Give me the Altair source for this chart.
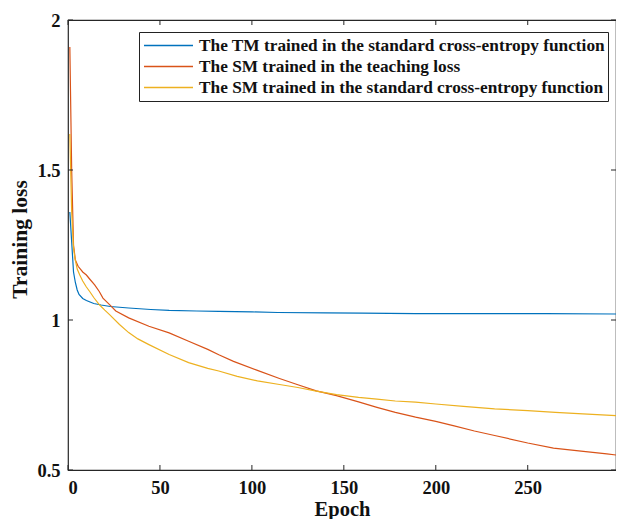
import altair as alt
import pandas as pd

# ---- data ----
tm_epoch = [1, 2, 3, 4, 5, 6, 8, 10, 12, 14, 18, 23, 33, 45, 55, 70, 82, 100, 114,
            140, 160, 189, 220, 260, 298]
tm_loss = [1.36, 1.26, 1.16, 1.125, 1.1, 1.085, 1.072, 1.065, 1.06, 1.055, 1.05,
           1.045, 1.04, 1.035, 1.032, 1.03, 1.029, 1.027, 1.025, 1.024, 1.023, 1.021,
           1.021, 1.021, 1.02]

smt_epoch = [1, 2, 3, 4, 5.5, 8, 10, 12, 14.5, 17, 19, 22.6, 26, 33, 44, 55, 65.6, 76,
             82, 90, 103, 115, 125, 135, 146, 158, 168, 178, 189, 200, 210, 221, 232,
             250, 264, 279, 293, 298]
smt_loss = [1.91, 1.5, 1.25, 1.2, 1.179, 1.16, 1.15, 1.135, 1.117, 1.095, 1.073,
            1.051, 1.03, 1.007, 0.979, 0.957, 0.929, 0.902, 0.884, 0.862, 0.832,
            0.805, 0.784, 0.764, 0.748, 0.727, 0.709, 0.692, 0.676, 0.662, 0.647,
            0.63, 0.615, 0.59, 0.573, 0.563, 0.554, 0.55]

smce_epoch = [1, 2, 3, 3.8, 5, 6.4, 8, 10, 11.8, 14, 17.2, 20, 22.6, 28, 33, 38, 44,
              55, 65.6, 76, 82, 92, 103, 115, 125, 135, 146, 158, 168, 178, 189, 200,
              215, 232, 250, 265, 280, 298]
smce_loss = [1.62, 1.36, 1.24, 1.205, 1.17, 1.15, 1.13, 1.11, 1.095, 1.075, 1.05,
             1.033, 1.018, 0.985, 0.958, 0.937, 0.918, 0.885, 0.858, 0.839, 0.83,
             0.812, 0.797, 0.785, 0.775, 0.763, 0.751, 0.742, 0.736, 0.73, 0.726,
             0.72, 0.712, 0.704, 0.698, 0.692, 0.687, 0.681]

series_names = [
    "The TM trained in the standard cross-entropy function",
    "The SM trained in the teaching loss",
    "The SM trained in the standard cross-entropy function",
]
series_colors = ["#0072BD", "#D95319", "#EDB120"]

x_ticks = [0, 50, 100, 150, 200, 250]
y_ticks = [0.5, 1.0, 1.5, 2.0]

rows = []
for name, ep, ls in zip(series_names, [tm_epoch, smt_epoch, smce_epoch],
                        [tm_loss, smt_loss, smce_loss]):
    for e, l in zip(ep, ls):
        rows.append({"series": name, "epoch": e, "loss": l})
df = pd.DataFrame(rows)
xt = pd.DataFrame({"epoch": x_ticks})
yt = pd.DataFrame({"loss": y_ticks})

W, H = 548, 450
FONT = "Liberation Serif"
AX = "#262626"
TXT = "#111111"

xscale = alt.Scale(domain=[0, 298], nice=False, zero=False)
yscale = alt.Scale(domain=[0.5, 2], nice=False, zero=False)

xaxis = alt.Axis(values=x_ticks, title="Epoch", grid=False, domain=False,
                 ticks=False, tickSize=0, labelPadding=8,
                 labelFont=FONT, labelFontSize=18.5, labelFontWeight="bold",
                 labelColor=TXT,
                 titleFont=FONT, titleFontSize=20.5, titleFontWeight="bold",
                 titleColor=TXT, titleBaseline="middle",
                 titleX=W / 2, titleY=39)
yaxis = alt.Axis(values=y_ticks, format="~g", title="Training loss",
                 grid=False, domain=False, ticks=False, tickSize=0,
                 labelPadding=8,
                 labelFont=FONT, labelFontSize=18.5, labelFontWeight="bold",
                 labelColor=TXT,
                 titleFont=FONT, titleFontSize=21.5, titleFontWeight="bold",
                 titleColor=TXT, titleAngle=-90,
                 titleBaseline="middle", titleAlign="center",
                 titleX=-48, titleY=219)

X = alt.X("epoch:Q", scale=xscale, axis=xaxis)
Y = alt.Y("loss:Q", scale=yscale, axis=yaxis)

lines = alt.Chart(df).mark_line(strokeWidth=1.2).encode(
    x=X, y=Y,
    color=alt.Color("series:N",
                    scale=alt.Scale(domain=series_names, range=series_colors),
                    sort=series_names,
                    legend=alt.Legend(title=None, orient="none", legendX=71,
                                      legendY=12, symbolType="stroke",
                                      symbolSize=2401, symbolStrokeWidth=1.5,
                                      clipHeight=21, rowPadding=0,
                                      labelFont=FONT, labelFontSize=17.3,
                                      labelFontWeight="bold", labelColor=TXT,
                                      labelLimit=0, labelOffset=5, padding=3,
                                      strokeColor="#222222", fillColor="white",
                                      symbolOffset=1)),
)

tick_kw = dict(color=AX, strokeWidth=1)
xb = alt.Chart(xt).mark_rule(**tick_kw).encode(
    x=X, y=alt.value(H), y2=alt.value(H - 5))
xtp = alt.Chart(xt).mark_rule(**tick_kw).encode(
    x=X, y=alt.value(0), y2=alt.value(5))
yl = alt.Chart(yt).mark_rule(**tick_kw).encode(
    y=Y, x=alt.value(0), x2=alt.value(5))
yr = alt.Chart(yt).mark_rule(**tick_kw).encode(
    y=Y, x=alt.value(W), x2=alt.value(W - 5))

chart = alt.layer(lines, xb, xtp, yl, yr).properties(
    width=W, height=H,
    autosize=alt.AutoSizeParams(type="none"),
    padding={"left": 60, "top": 12, "right": 0, "bottom": 49},
).configure_view(stroke=AX, strokeWidth=1.2)

chart.save("out.html", embed_options={"renderer": "svg", "actions": False})
